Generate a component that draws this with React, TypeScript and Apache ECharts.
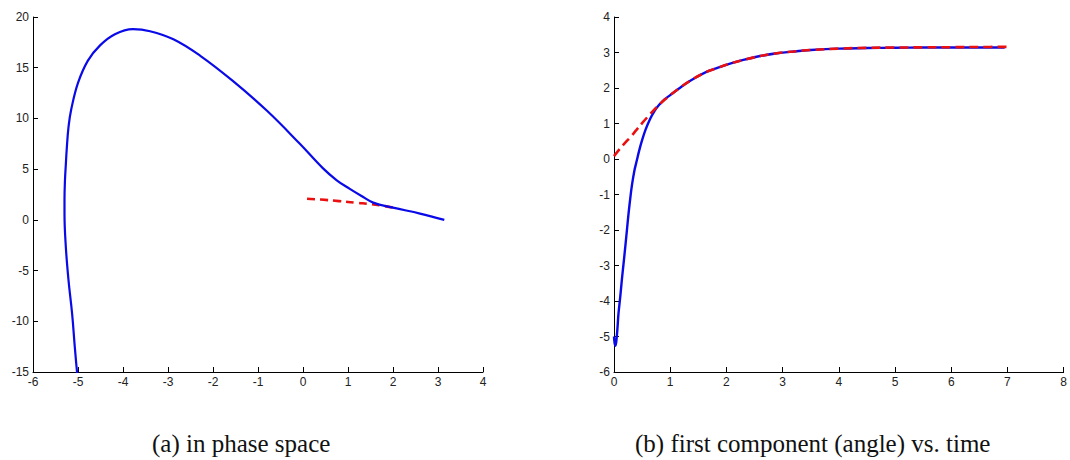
import React, { useEffect, useRef } from "react";
import * as echarts from "echarts";

// Phase space: true trajectory (theta, omega)
const phaseTheta = [-4.97, -5.02, -5.07, -5.13, -5.21, -5.27, -5.3, -5.3, -5.29, -5.27, -5.25, -5.21, -5.15, -5.0, -4.78, -4.51, -4.18, -3.78, -3.4, -2.88, -2.29, -1.56, -0.8, -0.07, 0.44, 0.75, 1.04, 1.3, 1.56, 2.0, 2.6, 3.14];
const phaseOmega = [-17.5, -15.1, -12.6, -9.3, -6.0, -2.7, 0.6, 2.0, 3.85, 5.5, 7.0, 9.2, 10.9, 13.5, 15.7, 17.2, 18.3, 18.8, 18.6, 17.8, 16.2, 13.7, 10.75, 7.5, 5.1, 3.9, 3.05, 2.35, 1.7, 1.2, 0.62, 0.0];
// Phase space: model trajectory (red dashed)
const modelPhaseTheta = [0.09, 0.4, 0.8, 1.2, 1.5, 1.75, 2.0];
const modelPhaseOmega = [2.08, 2.0, 1.85, 1.68, 1.55, 1.4, 1.22];

// Angle vs time: true trajectory
const timeT = [0, 0.012, 0.025, 0.04, 0.06, 0.08, 0.11, 0.14, 0.17, 0.2, 0.23, 0.26, 0.29, 0.32, 0.36, 0.4, 0.45, 0.5, 0.56, 0.64, 0.72, 0.8, 0.9, 1.0, 1.15, 1.35, 1.6, 1.83, 2.05, 2.3, 2.6, 2.9, 3.2, 3.5, 4.0, 4.5, 5.0, 5.5, 6.0, 6.5, 6.95];
const timeTheta = [-5.0, -5.2, -5.26, -5.15, -4.8, -4.35, -3.9, -3.4, -2.95, -2.48, -2.0, -1.52, -1.1, -0.73, -0.35, -0.08, 0.25, 0.53, 0.82, 1.12, 1.35, 1.52, 1.68, 1.8, 1.98, 2.2, 2.42, 2.56, 2.68, 2.79, 2.9, 2.98, 3.03, 3.07, 3.11, 3.125, 3.135, 3.14, 3.14, 3.14, 3.14];
// Angle vs time: model trajectory
const modelT = [0, 0.1, 0.2, 0.3, 0.4, 0.5, 0.6, 0.7, 0.8, 0.9, 1.0, 1.15, 1.35, 1.6, 1.83, 2.05, 2.3, 2.6, 2.9, 3.2, 3.5, 4.0, 4.5, 5.0, 5.5, 6.0, 6.5, 7.07];
const modelTheta = [0.08, 0.28, 0.46, 0.63, 0.82, 1.01, 1.19, 1.36, 1.52, 1.67, 1.8, 1.98, 2.2, 2.42, 2.56, 2.68, 2.79, 2.9, 2.98, 3.03, 3.07, 3.11, 3.13, 3.14, 3.145, 3.15, 3.155, 3.16];

const captionA = "(a) in phase space";
const captionB = "(b) first component (angle) vs. time";

const BLUE = "#0a0ae8";
const RED = "#ea1010";

function zip(a: number[], b: number[]) {
  return a.map((v, i) => [v, b[i]]);
}

function axisCommon(min: number, max: number, interval: number, gridIndex: number) {
  return {
    type: "value",
    gridIndex,
    min,
    max,
    interval,
    axisLine: { show: true, onZero: false, lineStyle: { color: "#000", width: 1 } },
    axisTick: { show: true, inside: true, length: 5, lineStyle: { color: "#000" } },
    axisLabel: {
      show: true,
      margin: 4,
      color: "#222",
      fontSize: 12,
      fontFamily: "Liberation Sans, Arial, sans-serif",
      showMinLabel: true,
      showMaxLabel: true,
    },
    splitLine: { show: false },
  };
}

export default function App() {
  const ref = useRef<HTMLDivElement>(null);
  useEffect(() => {
    if (!ref.current) return;
    const chart = echarts.init(ref.current, undefined, { renderer: "svg" });
    chart.setOption({
      animation: false,
      backgroundColor: "#fff",
      grid: [
        { left: 33, top: 17, width: 450, height: 355 },
        { left: 614, top: 17, width: 450, height: 355 },
      ],
      xAxis: [axisCommon(-6, 4, 1, 0), axisCommon(0, 8, 1, 1)],
      yAxis: [axisCommon(-15, 20, 5, 0), axisCommon(-6, 4, 1, 1)],
      series: [
        {
          type: "line",
          xAxisIndex: 0,
          yAxisIndex: 0,
          data: zip(modelPhaseTheta, modelPhaseOmega),
          showSymbol: false,
          smooth: true,
          z: 2,
          lineStyle: { color: RED, width: 2.6, type: [8, 5] },
        },
        {
          type: "line",
          xAxisIndex: 0,
          yAxisIndex: 0,
          data: zip(phaseTheta, phaseOmega),
          showSymbol: false,
          smooth: 0.4,
          z: 3,
          lineStyle: { color: BLUE, width: 2.2 },
        },
        {
          type: "line",
          xAxisIndex: 1,
          yAxisIndex: 1,
          data: zip(timeT, timeTheta),
          showSymbol: false,
          smooth: 0.4,
          z: 2,
          lineStyle: { color: BLUE, width: 2.4 },
        },
        {
          type: "line",
          xAxisIndex: 1,
          yAxisIndex: 1,
          data: zip(modelT, modelTheta),
          showSymbol: false,
          smooth: 0.4,
          z: 3,
          lineStyle: { color: RED, width: 2.6, type: [9, 5] },
        },
      ],
      graphic: [
        {
          type: "text",
          left: 152,
          top: 431,
          style: { text: captionA, font: '25px "Liberation Serif", serif', fill: "#111" },
        },
        {
          type: "text",
          left: 635,
          top: 431,
          style: { text: captionB, font: '25px "Liberation Serif", serif', fill: "#111" },
        },
      ],
    });
    return () => chart.dispose();
  }, []);
  return (
    <div
      ref={ref}
      style={{ position: "absolute", left: 0, top: 0, width: 1070, height: 460, background: "#fff" }}
    />
  );
}
